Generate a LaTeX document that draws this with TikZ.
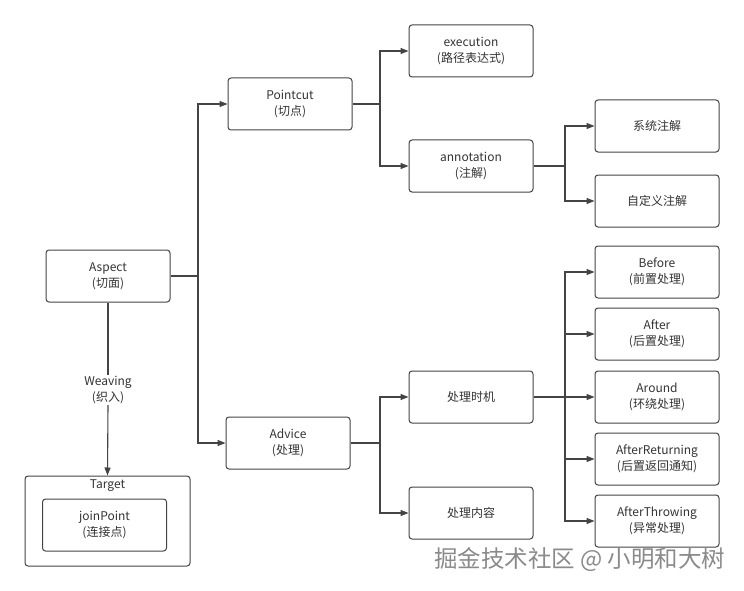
\documentclass[tikz,border=0pt]{standalone}
\usepackage{fontspec}
\setmainfont{Noto Sans CJK SC}
\usetikzlibrary{arrows.meta,positioning}
\definecolor{ln}{HTML}{444444}
\definecolor{tx}{HTML}{333333}
\definecolor{wm}{HTML}{8A8A8A}
\tikzset{
  box/.style={draw=ln, line width=1pt, rounded corners=3pt, minimum width=124pt, minimum height=52pt, align=center, text=tx, font=\fontsize{12}{16}\selectfont, inner sep=2pt},
  conn/.style={draw=ln, line width=1.1pt},
  arr/.style={conn, -{Triangle[length=8pt,width=6pt]}}
}
\begin{document}
\begin{tikzpicture}[x=1pt,y=-1pt]
\path[use as bounding box] (0,0) rectangle (744,591);
% nodes
\node[box] (aspect) at (108,276) {Aspect\\(切面)};
\node[box] (pointcut) at (290,104) {Pointcut\\(切点)};
\node[box] (execution) at (471,51) {execution\\(路径表达式)};
\node[box] (annotation) at (471,166) {annotation\\(注解)};
\node[box] (sys) at (657,126) {系统注解};
\node[box] (custom) at (657,201) {自定义注解};
\node[box] (advice) at (288,443) {Advice\\(处理)};
\node[box] (timing) at (471,397) {处理时机};
\node[box] (content) at (471,513) {处理内容};
\node[box] (before) at (657,272) {Before\\(前置处理)};
\node[box] (after) at (657,334) {After\\(后置处理)};
\node[box] (around) at (657,397) {Around\\(环绕处理)};
\node[box] (afterret) at (657,459) {AfterReturning\\(后置返回通知)};
\node[box] (afterthr) at (657,521) {AfterThrowing\\(异常处理)};
\node[draw=ln, line width=1pt, rounded corners=3pt, minimum width=165pt, minimum height=90pt] (target) at (107.5,521) {};
\node[text=tx, font=\fontsize{12}{16}\selectfont] (targetlbl) at (107.5,486) {Target};
\node[box] (joinpoint) at (104.5,525) {joinPoint\\(连接点)};
% weaving
\node[text=tx, fill=white, align=center, font=\fontsize{12}{16}\selectfont, inner sep=1pt] (weave) at (108,390) {Weaving\\(织入)};
\draw[conn] (aspect.south) -- (weave.north);
\draw[arr] (weave.south) -- (target.north);
% branches
\coordinate (b1) at (198,276);
\draw[conn] (aspect.east) -- (b1);
\draw[arr] (b1) |- (pointcut.west);
\draw[arr] (b1) |- (advice.west);
\coordinate (b2) at (380,104);
\draw[conn] (pointcut.east) -- (b2);
\draw[arr] (b2) |- (execution.west);
\draw[arr] (b2) |- (annotation.west);
\coordinate (b3) at (565,166);
\draw[conn] (annotation.east) -- (b3);
\draw[arr] (b3) |- (sys.west);
\draw[arr] (b3) |- (custom.west);
\coordinate (b4) at (380,443);
\draw[conn] (advice.east) -- (b4);
\draw[arr] (b4) |- (timing.west);
\draw[arr] (b4) |- (content.west);
\coordinate (b5) at (565,397);
\draw[conn] (timing.east) -- (b5);
\draw[arr] (b5) |- (before.west);
\draw[arr] (b5) |- (after.west);
\draw[arr] (b5) -- (around.west);
\draw[arr] (b5) |- (afterret.west);
\draw[arr] (b5) |- (afterthr.west);
% watermark
\node[text=wm, font=\fontsize{23.5}{26}\selectfont, anchor=east] (wmark) at (729,560) {掘金技术社区 @ 小明和大树};
\end{tikzpicture}
\end{document}
